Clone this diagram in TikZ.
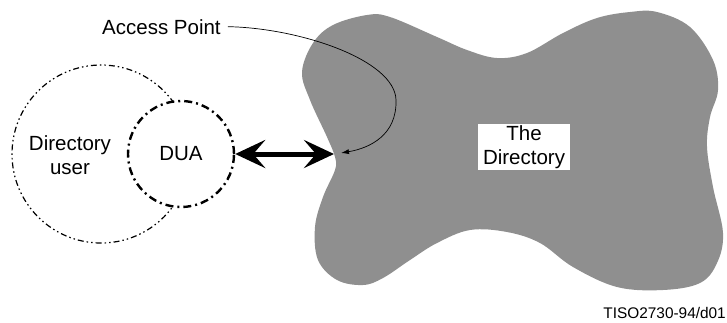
\documentclass[tikz,border=0pt]{standalone}
\usepackage{fontspec}
\setmainfont{Liberation Sans}
\usetikzlibrary{arrows.meta}
\definecolor{blobgray}{gray}{0.56}
\tikzset{
  user/.style = {
    circle, draw, line width=1.2pt, inner sep=0pt, minimum size=178pt,
    dash pattern=on 6pt off 3pt on 1.5pt off 3pt on 1.5pt off 3pt
  },
  agent/.style = {
    circle, draw, fill=white, line width=2.4pt, inner sep=0pt, minimum size=106pt,
    dash pattern=on 8pt off 4pt on 2pt off 4pt
  },
  txt/.style = {align=center, font=\fontsize{20.5}{24}\selectfont},
  bind/.style = {
    {Stealth[length=30pt,width=28pt,inset=12pt]}-{Stealth[length=30pt,width=28pt,inset=12pt]},
    line width=5pt
  }
}

\begin{document}
\begin{tikzpicture}[x=1pt,y=-1pt]
\useasboundingbox (0,0) rectangle (727,322);

% the directory
\fill[blobgray] plot[smooth cycle, tension=0.6] coordinates {
  (335,157) (327,137) (310,100) (302,72) (313,43) (333,25) (367,15) (390,17)
  (437,37) (467,50) (497,58) (527,53) (563,33) (597,18) (630,12) (657,12)
  (690,27) (713,60) (718,90) (710,117) (707,147) (713,187) (723,233)
  (717,263) (700,283) (663,290) (617,287) (573,267) (540,243) (507,232)
  (470,230) (437,243) (410,260) (383,278) (363,285) (337,280) (318,260)
  (315,227) (323,197) (335,170)
};
\node[txt, fill=white, inner xsep=5pt, inner ysep=1pt] (dir) at (524,147) {The\\Directory};

% user and DUA
\node[user] (usr) at (101,154) {};
\node[agent] (dua) at (181,154) {};
\node[txt] (usrtxt) at (70,155) {Directory\\user};
\node[txt] (duatxt) at (dua.center) {DUA};

% access point
\coordinate (notch) at (334,154);
\coordinate (ap) at (341,153);
\draw[bind] (dua.east) -- (notch);

\node[txt, anchor=base west, inner sep=0pt] (aplabel) at (102,34) {Access Point};
\draw[-{Latex[length=8pt,width=5pt]}, line width=0.7pt]
  ([xshift=7pt]aplabel.east) .. controls (300,28) and (395,60) .. (396,100)
  .. controls (397,135) and (370,148) .. (ap);

\node[anchor=base east, inner sep=0pt, font=\fontsize{15.4}{18}\selectfont] (tag) at (726,318) {TISO2730-94/d01};
\end{tikzpicture}
\end{document}
